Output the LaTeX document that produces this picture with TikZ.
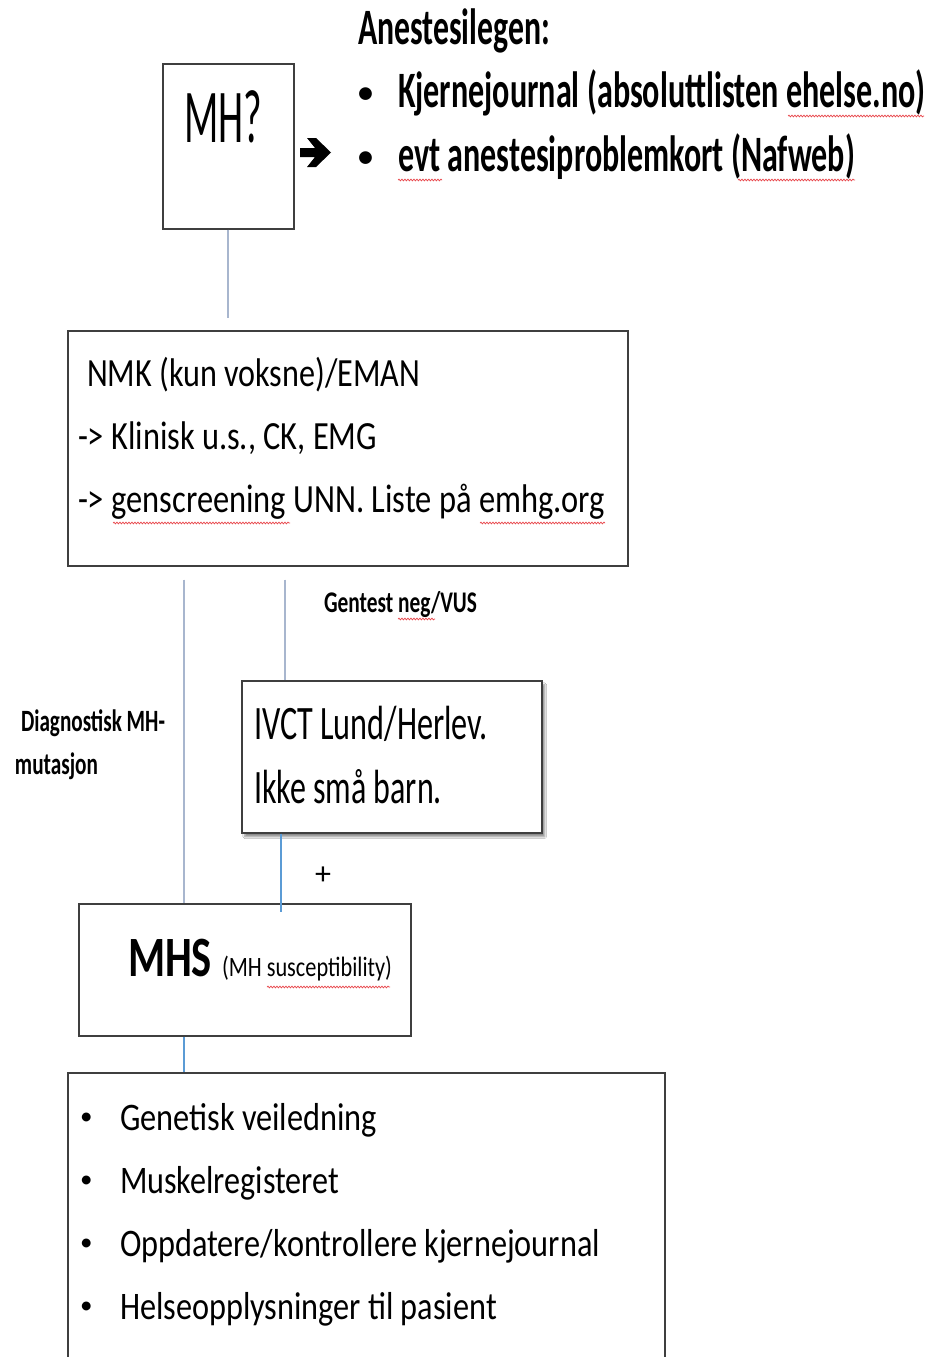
\documentclass[tikz,border=0pt]{standalone}
\usepackage{fontspec}
\setmainfont{Carlito}
\usepackage{graphicx}
\usetikzlibrary{calc,shadows.blur,decorations.pathmorphing}
\definecolor{boxline}{HTML}{3F3F3F}
\definecolor{greyblue}{HTML}{A8B6CE}
\definecolor{midblue}{HTML}{5B9BD5}
\definecolor{squig}{HTML}{E8474C}
\newcommand\fs[1]{\fontsize{#1}{#1}\selectfont}
\newcommand\sqz[2]{\resizebox{#1pt}{\height}{#2}}
\begin{document}
\begin{tikzpicture}[x=1pt,y=-1pt,
  box/.style={draw=boxline, line width=1.5pt, rectangle, anchor=north west, inner sep=0pt, fill=white},
  txt/.style={anchor=base west, inner sep=0pt, outer sep=0pt},
  conn/.style={draw=greyblue, line width=1.6pt},
  conn2/.style={draw=midblue, line width=1.6pt},
  squiggle/.style={draw=squig, line width=0.7pt, decorate, decoration={snake, amplitude=0.9pt, segment length=3pt}}]
\fill[white] (0,0) rectangle (937,1357);
\useasboundingbox (0,0) rectangle (937,1357);

% boxes
\node[box, minimum width=131pt, minimum height=165pt] (mh) at (162,63) {};
\node[box, minimum width=560pt, minimum height=235pt] (nmk) at (67,330) {};
\node[box, minimum width=300pt, minimum height=152pt,
  blur shadow={shadow xshift=3pt, shadow yshift=-4pt, shadow blur steps=6, shadow opacity=45}] (ivct) at (241,680) {};
\node[box, minimum width=332pt, minimum height=132pt] (mhs) at (78,903) {};
\node[box, minimum width=597pt, minimum height=310pt] (bot) at (67,1072) {};

% connectors
\draw[conn, shorten >=12pt] (mh.south) -- (mh.south |- nmk.north);
\draw[conn, shorten <=13pt] ([xshift=117pt]nmk.south west) -- ([xshift=106pt]mhs.north west);
\draw[conn, shorten <=13pt] ([xshift=218pt]nmk.south west) -- ([xshift=44pt]ivct.north west);
\draw[conn2] ([xshift=40pt]ivct.south west) -- ([xshift=203pt,yshift=-9pt]mhs.north west);
\draw[conn2] ([xshift=106pt]mhs.south west) -- ([xshift=117pt]bot.north west);

% MH?
\node[txt] (mhq) at (184,142) {\fs{76}\sqz{78}{MH?}};
% arrow glyph
\fill[black] (300,148) -- (315,148) -- (307,138) -- (316,138) -- (331,152.5) -- (316,167) -- (307,167) -- (315,157) -- (300,157) -- cycle;

% Anestesilegen
\node[txt] (anest) at (358,45) {\fs{51}\bfseries\sqz{192}{Anestesilegen:}};
\node[txt] (bul1) at (358,102) {\fs{30}\bfseries •};
\node[txt] (k1) at (398,107) {\fs{51}\bfseries\sqz{527}{Kjernejournal (absoluttlisten ehelse.no)}};
\node[txt] (bul2) at (358,166) {\fs{30}\bfseries •};
\node[txt] (k2) at (398,171) {\fs{51}\bfseries\sqz{457}{evt anestesiproblemkort (Nafweb)}};

% NMK
\node[txt] (n1) at (87,386) {\fs{40}\sqz{333}{NMK (kun voksne)/EMAN}};
\node[txt] (n2) at (78,449) {\fs{40}\sqz{299}{-> Klinisk u.s., CK, EMG}};
\node[txt] (n3) at (78,512) {\fs{40}\sqz{527}{-> genscreening UNN. Liste på emhg.org}};

% labels
\node[txt] (gentest) at (324,612) {\fs{30}\bfseries\sqz{153}{Gentest neg/VUS}};
\node[txt] (diag1) at (21,731) {\fs{31}\bfseries\sqz{144}{Diagnostisk MH-}};
\node[txt] (diag2) at (15,774) {\fs{31}\bfseries\sqz{83}{mutasjon}};

% IVCT
\node[txt] (iv1) at (254,739) {\fs{48}\sqz{234}{IVCT Lund/Herlev.}};
\node[txt] (iv2) at (254,803) {\fs{48}\sqz{188}{Ikke små barn.}};
\node[txt] (plus) at (315,884) {\fs{32}+};

% MHS
\node[txt] (mhs1) at (128,976) {\fs{57}\bfseries\sqz{84}{MHS}};
\node[txt] (mhs2) at (222,976) {\fs{28}\sqz{170}{(MH susceptibility)}};

% bottom list
\node[txt] (bb1) at (80,1124) {\fs{25}•};
\node[txt] (t1) at (120,1130) {\fs{39}\sqz{257}{Genetisk veiledning}};
\node[txt] (bb2) at (80,1187) {\fs{25}•};
\node[txt] (t2) at (120,1193) {\fs{39}\sqz{219}{Muskelregisteret}};
\node[txt] (bb3) at (80,1250) {\fs{25}•};
\node[txt] (t3) at (120,1256) {\fs{39}\sqz{480}{Oppdatere/kontrollere kjernejournal}};
\node[txt] (bb4) at (80,1313) {\fs{25}•};
\node[txt] (t4) at (120,1319) {\fs{39}\sqz{377}{Helseopplysninger til pasient}};

% spell-check squiggles
\draw[squiggle] (788,116) -- (924,116);
\draw[squiggle] (398,180) -- (442,180);
\draw[squiggle] (738,180) -- (855,180);
\draw[squiggle] (113,523) -- (290,523);
\draw[squiggle] (480,523) -- (605,523);
\draw[squiggle] (398,619) -- (435,619);
\draw[squiggle] (267,987) -- (390,987);
\end{tikzpicture}
\end{document}
